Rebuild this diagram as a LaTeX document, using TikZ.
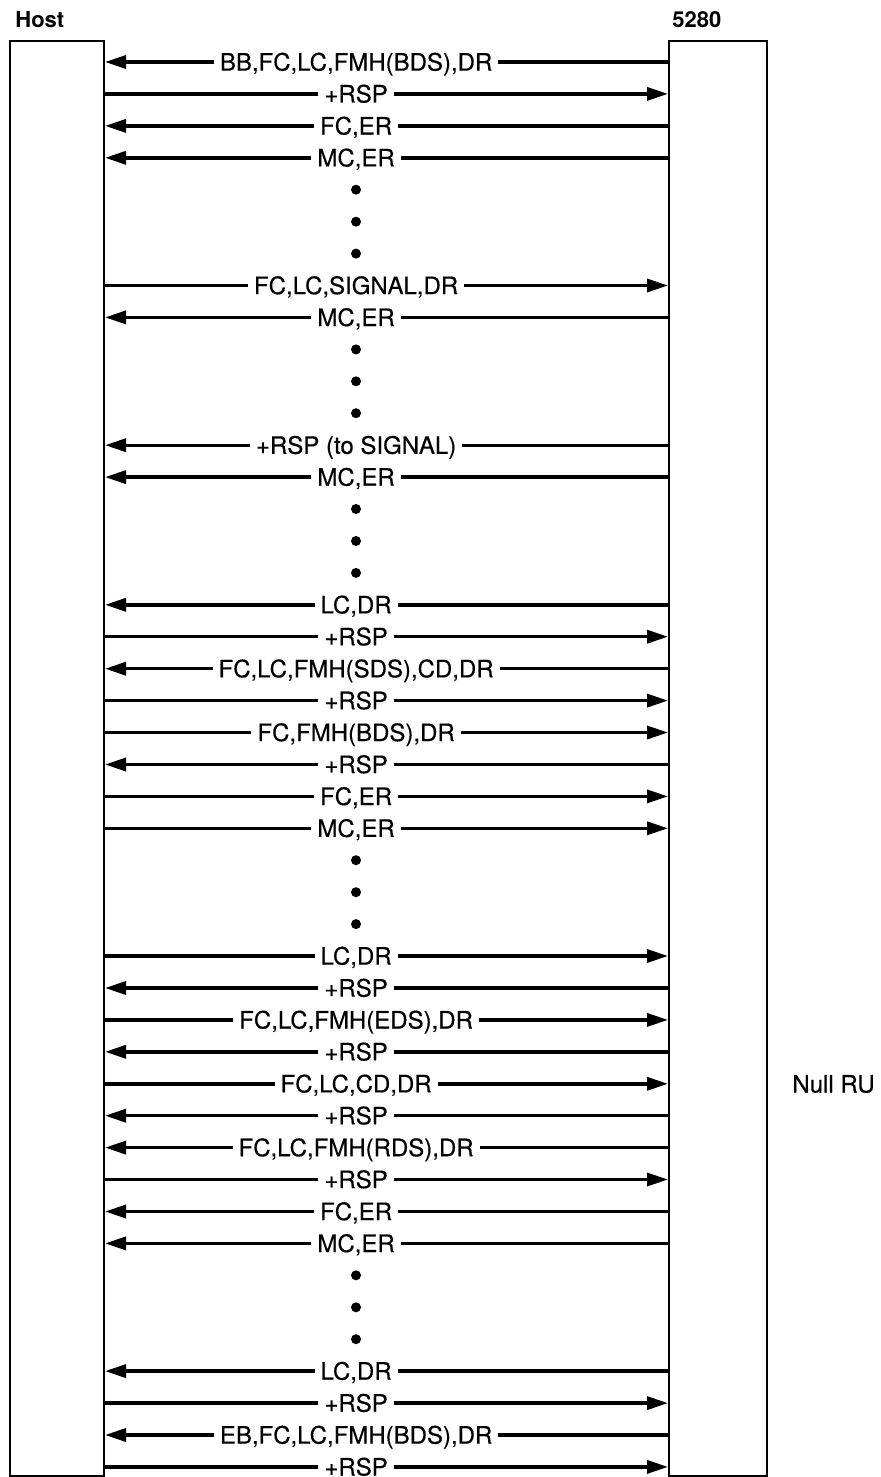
\documentclass[tikz,border=0pt]{standalone}
\usepackage{fontspec}
\setmainfont{TeX Gyre Heros}
\newfontfamily\msgfont[FakeBold=0.4]{TeX Gyre Heros}
\usepackage{tikz}
\usetikzlibrary{arrows.meta,positioning}

\begin{document}
\begin{tikzpicture}[
  x=0.5pt, y=-0.5pt,
  lifebox/.style={draw, line width=1pt, inner sep=0pt},
  toh/.style={{Triangle[length=10.5pt,width=6.5pt]}-, line width=1.7pt},
  toi/.style={-{Triangle[length=10.5pt,width=6.5pt]}, line width=1.7pt},
  msg/.style={fill=white, font=\msgfont\fontsize{12}{14}\selectfont, inner xsep=3pt,
              inner ysep=1pt, text height=8.6pt, text depth=0pt, pos=0.446},
  hdr/.style={font=\fontsize{11}{13}\selectfont\bfseries, inner sep=0pt},
  note/.style={font=\msgfont\fontsize{12}{14}\selectfont, inner sep=0pt},
  dot/.style={circle, fill, inner sep=0pt, minimum size=5pt}
]
\useasboundingbox (0,0) rectangle (881,1477);

\node[lifebox, minimum width=47.25pt, minimum height=717.5pt] (host) at (56.75,758.5) {};
\node[lifebox, minimum width=49pt, minimum height=717.5pt] (ibm) at (718,758.5) {};
\node[hdr, anchor=base west] (hostlbl) at (15,28) {Host};
\node[hdr, anchor=base west] (ibmlbl) at (672,28) {5280};
\node[note, anchor=west] (nullru) at (792,1084) {Null RU};

\draw[toh] (host.east |- 0,62.0) -- node[msg] {BB,FC,LC,FMH(BDS),DR} (ibm.west |- 0,62.0);
\draw[toi] (host.east |- 0,93.9) -- node[msg] {+RSP} (ibm.west |- 0,93.9);
\draw[toh] (host.east |- 0,125.9) -- node[msg] {FC,ER} (ibm.west |- 0,125.9);
\draw[toh] (host.east |- 0,157.8) -- node[msg] {MC,ER} (ibm.west |- 0,157.8);
\node[dot] (d1) at (356,189.7) {};
\node[dot] (d2) at (356,221.7) {};
\node[dot] (d3) at (356,253.6) {};
\draw[toi] (host.east |- 0,285.5) -- node[msg] {FC,LC,SIGNAL,DR} (ibm.west |- 0,285.5);
\draw[toh] (host.east |- 0,317.4) -- node[msg] {MC,ER} (ibm.west |- 0,317.4);
\node[dot] (d4) at (356,349.4) {};
\node[dot] (d5) at (356,381.3) {};
\node[dot] (d6) at (356,413.2) {};
\draw[toh] (host.east |- 0,445.2) -- node[msg] {+RSP (to SIGNAL)} (ibm.west |- 0,445.2);
\draw[toh] (host.east |- 0,477.1) -- node[msg] {MC,ER} (ibm.west |- 0,477.1);
\node[dot] (d7) at (356,509.0) {};
\node[dot] (d8) at (356,541.0) {};
\node[dot] (d9) at (356,572.9) {};
\draw[toh] (host.east |- 0,604.8) -- node[msg] {LC,DR} (ibm.west |- 0,604.8);
\draw[toi] (host.east |- 0,636.7) -- node[msg] {+RSP} (ibm.west |- 0,636.7);
\draw[toh] (host.east |- 0,668.7) -- node[msg] {FC,LC,FMH(SDS),CD,DR} (ibm.west |- 0,668.7);
\draw[toi] (host.east |- 0,700.6) -- node[msg] {+RSP} (ibm.west |- 0,700.6);
\draw[toi] (host.east |- 0,732.5) -- node[msg] {FC,FMH(BDS),DR} (ibm.west |- 0,732.5);
\draw[toh] (host.east |- 0,764.5) -- node[msg] {+RSP} (ibm.west |- 0,764.5);
\draw[toi] (host.east |- 0,796.4) -- node[msg] {FC,ER} (ibm.west |- 0,796.4);
\draw[toi] (host.east |- 0,828.3) -- node[msg] {MC,ER} (ibm.west |- 0,828.3);
\node[dot] (d10) at (356,860.2) {};
\node[dot] (d11) at (356,892.2) {};
\node[dot] (d12) at (356,924.1) {};
\draw[toi] (host.east |- 0,956.0) -- node[msg] {LC,DR} (ibm.west |- 0,956.0);
\draw[toh] (host.east |- 0,988.0) -- node[msg] {+RSP} (ibm.west |- 0,988.0);
\draw[toi] (host.east |- 0,1019.9) -- node[msg] {FC,LC,FMH(EDS),DR} (ibm.west |- 0,1019.9);
\draw[toh] (host.east |- 0,1051.8) -- node[msg] {+RSP} (ibm.west |- 0,1051.8);
\draw[toi] (host.east |- 0,1083.8) -- node[msg] {FC,LC,CD,DR} (ibm.west |- 0,1083.8);
\draw[toh] (host.east |- 0,1115.7) -- node[msg] {+RSP} (ibm.west |- 0,1115.7);
\draw[toh] (host.east |- 0,1147.6) -- node[msg] {FC,LC,FMH(RDS),DR} (ibm.west |- 0,1147.6);
\draw[toi] (host.east |- 0,1179.5) -- node[msg] {+RSP} (ibm.west |- 0,1179.5);
\draw[toh] (host.east |- 0,1211.5) -- node[msg] {FC,ER} (ibm.west |- 0,1211.5);
\draw[toh] (host.east |- 0,1243.4) -- node[msg] {MC,ER} (ibm.west |- 0,1243.4);
\node[dot] (d13) at (356,1275.3) {};
\node[dot] (d14) at (356,1307.3) {};
\node[dot] (d15) at (356,1339.2) {};
\draw[toh] (host.east |- 0,1371.1) -- node[msg] {LC,DR} (ibm.west |- 0,1371.1);
\draw[toi] (host.east |- 0,1403.1) -- node[msg] {+RSP} (ibm.west |- 0,1403.1);
\draw[toh] (host.east |- 0,1435.0) -- node[msg] {EB,FC,LC,FMH(BDS),DR} (ibm.west |- 0,1435.0);
\draw[toi] (host.east |- 0,1466.9) -- node[msg] {+RSP} (ibm.west |- 0,1466.9);
\end{tikzpicture}
\end{document}
